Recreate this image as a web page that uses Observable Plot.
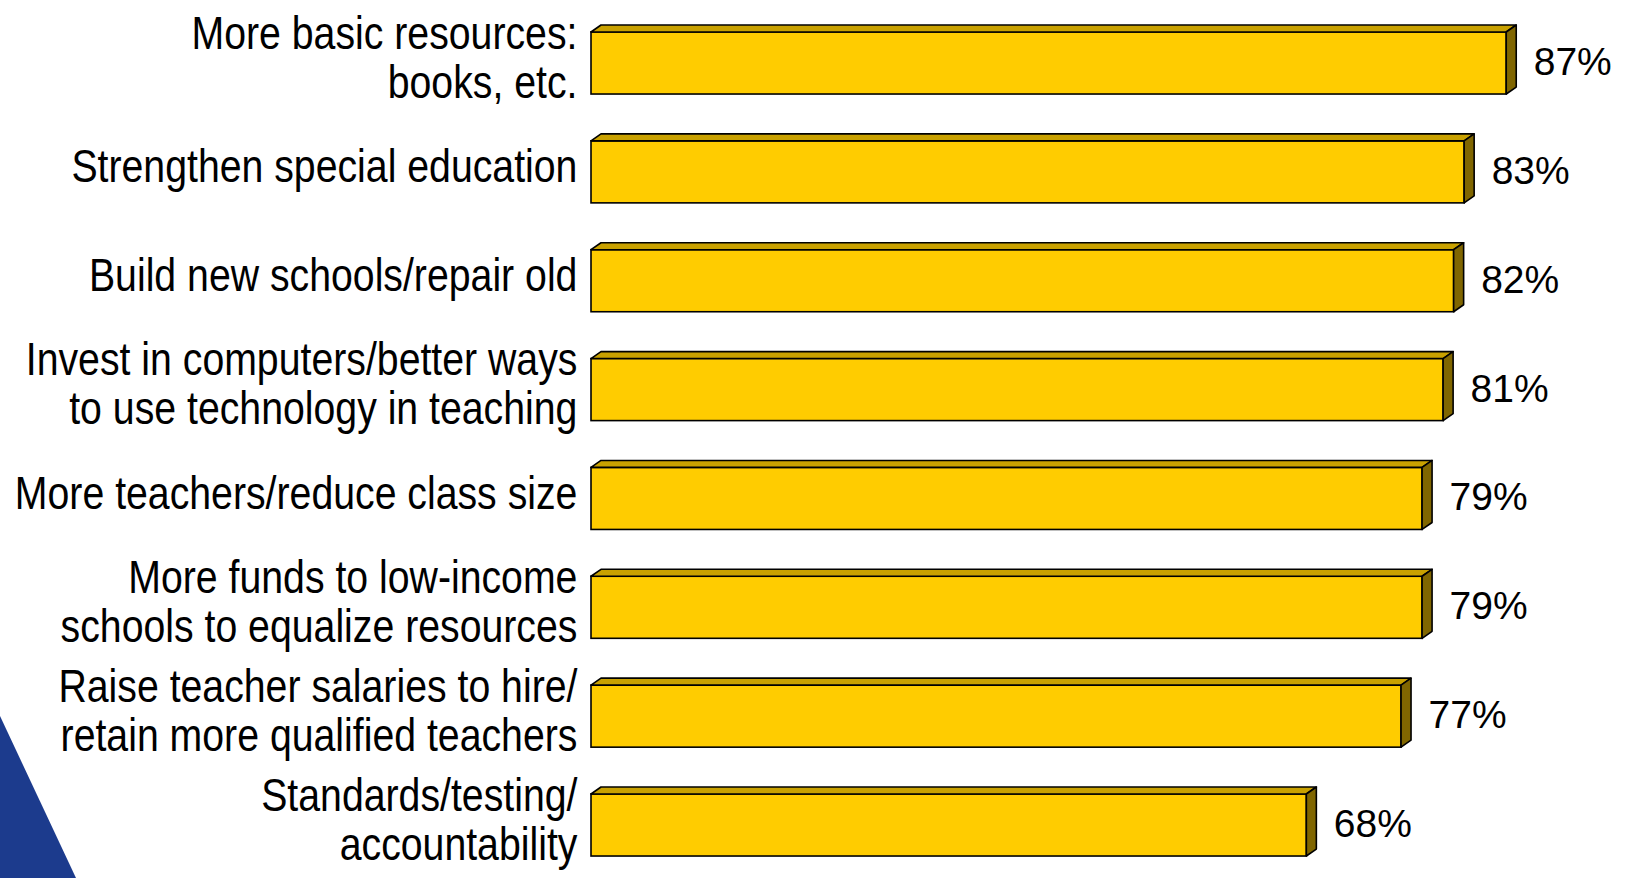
<!DOCTYPE html>
<html>
<head>
<meta charset="utf-8">
<script src="https://cdn.jsdelivr.net/npm/d3@7"></script>
<script src="https://cdn.jsdelivr.net/npm/@observablehq/plot@0.6"></script>
<style>
  html, body { margin: 0; padding: 0; background: #ffffff; }
  #wrap { position: relative; width: 1626px; height: 878px; overflow: hidden; background: #ffffff; }
  #swoosh { position: absolute; left: 0; top: 0; width: 1626px; height: 878px;
    background: #1c3b8d; clip-path: polygon(0px 716px, 76px 878px, 0px 878px); }
  #chart { position: absolute; left: 0; top: 0; }
</style>
</head>
<body>
<div id="wrap"><div id="swoosh"></div><div id="chart"></div></div>
<script>
const categories = [
  "More basic resources:\nbooks, etc.",
  "Strengthen special education",
  "Build new schools/repair old",
  "Invest in computers/better ways\nto use technology in teaching",
  "More teachers/reduce class size",
  "More funds to low-income\nschools to equalize resources",
  "Raise teacher salaries to hire/\nretain more qualified teachers",
  "Standards/testing/\naccountability"
];
const values = [87, 83, 82, 81, 79, 79, 77, 68];
const valueLabels = ["87%", "83%", "82%", "81%", "79%", "79%", "77%", "68%"];

const rows = categories.map((c, i) => ({i, label: c, value: values[i], text: valueLabels[i]}));

// geometry of the pseudo-3D bars (in data units)
const half = 0.285;   // half bar thickness (row units)
const depthX = 0.95;  // depth offset along x (percent units)
const depthY = 0.064; // depth offset along y (row units)

const topFace = rows.flatMap(d => [
  {z: d.i, y: d.i - half, x1: 0, x2: d.value},
  {z: d.i, y: d.i - half - depthY, x1: depthX, x2: d.value + depthX}
]);
const sideFace = rows.flatMap(d => [
  {z: d.i, x: d.value, y1: d.i + half, y2: d.i - half},
  {z: d.i, x: d.value + depthX, y1: d.i + half - depthY, y2: d.i - half - depthY}
]);

// detect whether a narrow sans is installed
function hasFont(name) {
  const c = document.createElement("canvas").getContext("2d");
  const s = "More teachers/reduce class size";
  c.font = "48px monospace"; const a = c.measureText(s).width;
  c.font = `48px '${name}', monospace`; const b = c.measureText(s).width;
  return Math.abs(a - b) > 1;
}
const narrow = hasFont("Liberation Sans Narrow");
const labelFont = narrow ? "'Liberation Sans Narrow', 'Arial Narrow', sans-serif" : "'Liberation Sans', Arial, sans-serif";

const labelClass = "cat-labels";
const labelDx = -14;
const chart = Plot.plot({
  width: 1626,
  height: 878,
  margin: 0,
  style: {background: "transparent", fontFamily: "'Liberation Sans', Arial, sans-serif"},
  x: {domain: [0, 100], range: [591, 1643], axis: null},
  y: {domain: [0, 7], range: [63, 825], axis: null},
  marks: [
    Plot.rect(rows, {x1: 0, x2: "value", y1: d => d.i - half, y2: d => d.i + half,
      fill: "#FFCC00", stroke: "#000000", strokeWidth: 1.6}),
    Plot.areaX(topFace, {y: "y", x1: "x1", x2: "x2", z: "z",
      fill: "#C9A100", stroke: "#000000", strokeWidth: 1.6, strokeLinejoin: "round"}),
    Plot.areaY(sideFace, {x: "x", y1: "y1", y2: "y2", z: "z",
      fill: "#806600", stroke: "#000000", strokeWidth: 1.6, strokeLinejoin: "round"}),
    Plot.text(rows, {x: 0, y: "i", text: "label", textAnchor: "end", dx: labelDx, dy: -6,
      fontSize: 47, lineHeight: 1.04, fill: "#000000", fontFamily: labelFont, className: labelClass}),
    Plot.text(rows, {x: "value", y: "i", text: "text", textAnchor: "start", dx: 27, dy: -1,
      fontSize: 39, fill: "#000000"})
  ]
});
document.getElementById("chart").appendChild(chart);

if (!narrow) {
  // emulate a narrow face by compressing the label group horizontally about its right edge
  const g = chart.querySelector("g." + labelClass) || chart.querySelector("[class~='" + labelClass + "']");
  if (g) {
    const orig = g.getAttribute("transform") || "";
    const xr = chart.scale("x").apply(0) + labelDx;
    g.setAttribute("transform", `translate(${xr},0) scale(0.835,1) translate(${-xr},0) ${orig}`);
  }
}
</script>
</body>
</html>
